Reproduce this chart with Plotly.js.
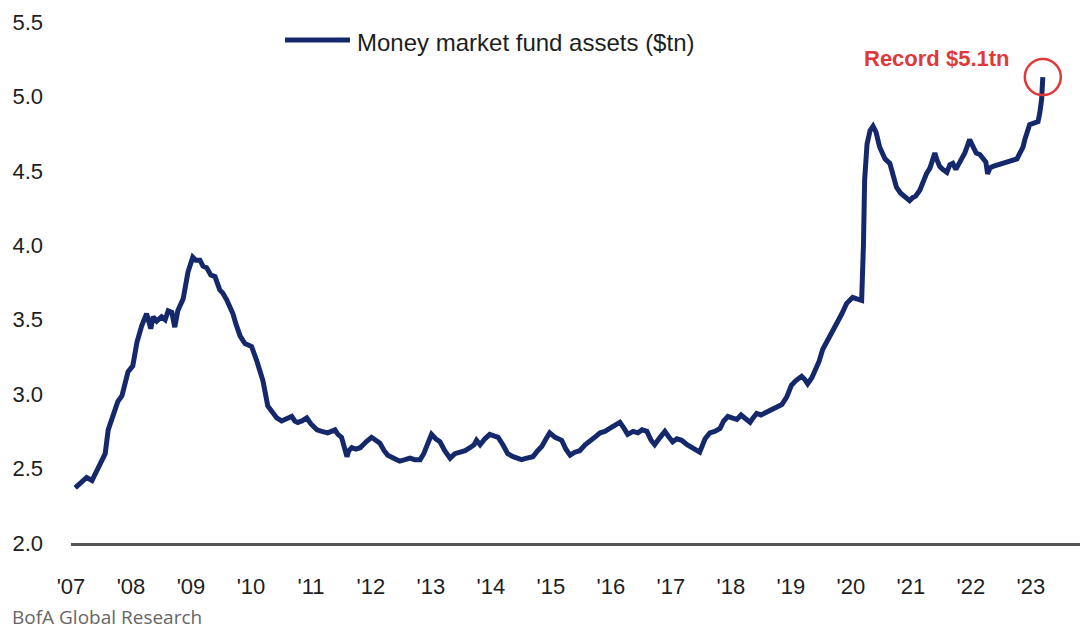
<!DOCTYPE html>
<html>
<head>
<meta charset="utf-8">
<script src="https://cdn.plot.ly/plotly-3.0.1.min.js"></script>
<style>html,body{margin:0;padding:0;background:#fff;}#chart{width:1080px;height:632px;}</style>
</head>
<body>
<div id="chart"></div>
<script>
// Decimal year of each reading
const years = [
2007.07,2007.15,2007.26,2007.35,2007.43,2007.53,2007.57,2007.62,2007.70,2007.78,2007.85,2007.90,2007.95,
2008.03,2008.10,2008.18,2008.26,2008.33,2008.37,2008.43,2008.51,2008.57,2008.62,2008.68,2008.73,2008.78,2008.87,2008.95,
2009.03,2009.08,2009.15,2009.20,2009.26,2009.33,2009.40,2009.48,2009.53,2009.60,2009.70,2009.75,2009.82,2009.90,
2010.01,2010.10,2010.20,2010.28,2010.37,2010.43,2010.51,2010.58,2010.68,2010.73,2010.78,2010.85,2010.93,
2011.00,2011.10,2011.18,2011.28,2011.40,2011.45,2011.51,2011.55,2011.60,2011.63,2011.68,2011.75,2011.82,2011.92,
2012.01,2012.08,2012.15,2012.22,2012.28,2012.38,2012.48,2012.57,2012.65,2012.73,2012.82,2012.88,2012.95,
2013.01,2013.08,2013.15,2013.23,2013.32,2013.40,2013.48,2013.57,2013.65,2013.72,2013.76,2013.82,2013.90,2013.98,
2014.05,2014.12,2014.20,2014.28,2014.37,2014.43,2014.51,2014.60,2014.70,2014.78,2014.85,2014.92,2014.98,
2015.07,2015.18,2015.25,2015.32,2015.40,2015.48,2015.57,2015.65,2015.73,2015.82,2015.90,2015.98,
2016.07,2016.15,2016.22,2016.28,2016.37,2016.45,2016.52,2016.60,2016.67,2016.73,2016.82,2016.90,2016.97,
2017.03,2017.10,2017.18,2017.27,2017.35,2017.42,2017.48,2017.57,2017.65,2017.73,2017.82,2017.88,2017.95,
2018.02,2018.10,2018.17,2018.26,2018.32,2018.37,2018.43,2018.50,2018.60,2018.68,2018.78,2018.85,2018.93,
2019.01,2019.08,2019.18,2019.23,2019.28,2019.35,2019.40,2019.47,2019.53,2019.60,2019.65,2019.72,2019.78,2019.85,2019.93,2019.98,
2020.03,2020.10,2020.18,2020.21,2020.23,2020.27,2020.32,2020.37,2020.42,2020.48,2020.53,2020.57,2020.65,2020.70,2020.76,2020.83,2020.93,2020.98,
2021.03,2021.08,2021.15,2021.20,2021.26,2021.32,2021.37,2021.40,2021.43,2021.48,2021.53,2021.60,2021.65,2021.70,2021.75,2021.82,2021.90,2021.98,
2022.03,2022.09,2022.15,2022.20,2022.25,2022.28,2022.32,2022.37,2022.45,2022.53,2022.62,2022.70,2022.77,2022.82,2022.87,2022.90,2022.95,2022.98,
2023.05,2023.12,2023.15,2023.18,2023.20
];
// Money market fund assets, $tn
const assets = [
2.37,2.40,2.44,2.42,2.49,2.56,2.60,2.76,2.85,2.95,2.99,3.07,3.15,
3.19,3.35,3.46,3.54,3.44,3.52,3.49,3.52,3.50,3.56,3.55,3.45,3.56,3.64,3.82,
3.92,3.90,3.90,3.86,3.85,3.80,3.79,3.70,3.68,3.63,3.54,3.47,3.39,3.34,
3.32,3.22,3.09,2.92,2.87,2.84,2.82,2.83,2.85,2.82,2.81,2.82,2.84,
2.80,2.76,2.75,2.74,2.76,2.73,2.71,2.66,2.58,2.62,2.64,2.63,2.64,2.68,
2.71,2.69,2.67,2.62,2.59,2.57,2.55,2.56,2.57,2.56,2.56,2.60,2.68,
2.73,2.70,2.68,2.62,2.57,2.60,2.61,2.62,2.64,2.66,2.69,2.66,2.70,2.73,
2.72,2.71,2.66,2.60,2.58,2.57,2.56,2.57,2.58,2.62,2.65,2.70,2.74,
2.71,2.69,2.63,2.59,2.61,2.62,2.66,2.69,2.71,2.74,2.75,2.77,
2.79,2.81,2.77,2.73,2.75,2.74,2.76,2.75,2.69,2.66,2.71,2.75,2.71,
2.68,2.70,2.69,2.66,2.64,2.63,2.61,2.70,2.74,2.75,2.77,2.82,2.85,
2.84,2.83,2.86,2.83,2.81,2.84,2.87,2.86,2.88,2.89,2.91,2.93,2.98,
3.06,3.09,3.12,3.10,3.07,3.11,3.15,3.22,3.30,3.35,3.39,3.44,3.48,3.54,3.61,3.63,
3.65,3.64,3.63,4.00,4.44,4.68,4.77,4.80,4.76,4.66,4.62,4.58,4.55,4.46,4.39,4.35,4.31,4.30,
4.32,4.33,4.37,4.43,4.48,4.52,4.57,4.62,4.58,4.53,4.51,4.49,4.54,4.55,4.51,4.57,4.62,4.71,
4.67,4.62,4.61,4.59,4.56,4.48,4.52,4.53,4.54,4.55,4.56,4.57,4.58,4.62,4.66,4.71,4.76,4.81,
4.82,4.83,4.89,4.98,5.13
];
const tickYears = [2007,2008,2009,2010,2011,2012,2013,2014,2015,2016,2017,2018,2019,2020,2021,2022,2023];
const tickLabels = ["'07","'08","'09","'10","'11","'12","'13","'14","'15","'16","'17","'18","'19","'20","'21","'22","'23"];
const yTicks = [2.0,2.5,3.0,3.5,4.0,4.5,5.0,5.5];
const yTickLabels = ["2.0","2.5","3.0","3.5","4.0","4.5","5.0","5.5"];
const seriesName = "Money market fund assets ($tn)";
const recordLabel = "Record $5.1tn";
const sourceLabel = "BofA Global Research";

const SANS = '"Liberation Sans Narrow","Arial Narrow","Liberation Sans",Arial,sans-serif';
const NAVY = '#15286c';
const RED = '#de3a3a';

const lastX = years[years.length - 1];
const lastY = assets[assets.length - 1];

const trace = {
  x: years, y: assets, type: 'scatter', mode: 'lines',
  line: {color: NAVY, width: 5},
  name: seriesName, showlegend: false, hoverinfo: 'skip'
};

const layout = {
  width: 1080, height: 632,
  margin: {l: 71, r: 0, t: 22, b: 89},
  paper_bgcolor: '#ffffff', plot_bgcolor: '#ffffff',
  showlegend: false,
  xaxis: {
    range: [2007, 2023.82],
    tickmode: 'array', tickvals: tickYears, ticktext: tickLabels,
    showgrid: false, zeroline: false,
    showline: true, linecolor: '#555555', linewidth: 2.5,
    ticks: '', ticklabelstandoff: 22,
    tickfont: {family: SANS, size: 22, color: '#1e1e1e'}
  },
  yaxis: {
    range: [2.0, 5.5],
    tickmode: 'array', tickvals: yTicks, ticktext: yTickLabels,
    showgrid: false, zeroline: false, showline: false,
    ticks: '', ticklabelstandoff: 27,
    tickfont: {family: SANS, size: 22, color: '#1e1e1e'}
  },
  shapes: [
    {type: 'line', xref: 'paper', yref: 'paper', x0: 0.2121, x1: 0.2765, y0: 0.9655, y1: 0.9655,
     line: {color: NAVY, width: 5}},
    {type: 'circle', xref: 'x', yref: 'y', xsizemode: 'pixel', ysizemode: 'pixel',
     xanchor: lastX, yanchor: lastY, x0: -18, x1: 18, y0: -18, y1: 18,
     line: {color: RED, width: 2.5}}
  ],
  annotations: [
    {xref: 'paper', yref: 'paper', x: 0.2815, y: 0.9616, xanchor: 'left', yanchor: 'middle',
     text: seriesName, showarrow: false,
     font: {family: SANS, size: 24, color: '#1e1e1e'}},
    {xref: 'x', yref: 'y', x: 2021.43, y: 5.257, xanchor: 'center', yanchor: 'middle',
     text: '<b>' + recordLabel + '</b>', showarrow: false,
     font: {family: SANS, size: 22, color: RED}},
    {xref: 'paper', yref: 'paper', x: -0.0605, y: -0.142, xanchor: 'left', yanchor: 'middle',
     text: sourceLabel, showarrow: false,
     font: {family: '"Open Sans","Noto Sans",sans-serif', size: 19, color: '#666666'}}
  ]
};

Plotly.newPlot('chart', [trace], layout, {displayModeBar: false, staticPlot: true});
</script>
</body>
</html>
